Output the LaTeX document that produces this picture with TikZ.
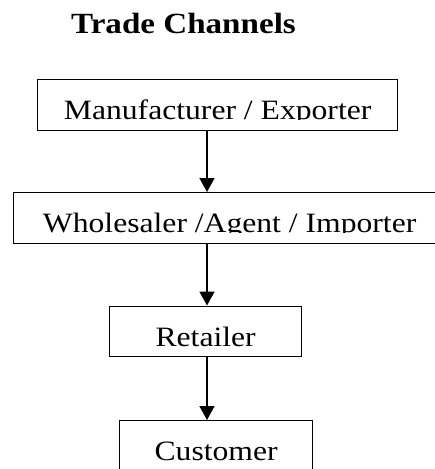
\documentclass[tikz,border=0pt]{standalone}
\usepackage{fontspec}
\setmainfont{Liberation Serif}[FakeStretch=1.13]
\usetikzlibrary{arrows.meta}
\tikzset{
  chanbox/.style={draw, line width=1.3pt, anchor=north west, minimum height=50.5pt,
    text height=29.5pt, text depth=0pt, inner ysep=0pt, inner xsep=0pt,
    font=\fontsize{28}{34}\selectfont},
  flowarrow/.style={line width=1.6pt, -{Triangle[length=14pt,width=15pt]}},
  cover/.style={fill=white}
}
\begin{document}
\begin{tikzpicture}[x=1pt,y=-1pt]
\useasboundingbox (0,0) rectangle (435,469);
\clip (0,0) rectangle (435,469);
\node[anchor=base, font=\fontsize{29.3}{34}\selectfont\bfseries, inner sep=0pt] (title) at (183.5,33) {Trade Channels};
\node[chanbox, minimum width=360pt] (m) at (37,79) {Manufacturer / Exporter};
\node[chanbox, minimum width=432pt] (w) at (13,192) {Wholesaler /Agent / Importer};
\node[chanbox, minimum width=192pt] (r) at (109,305.5) {Retailer};
\node[chanbox, minimum width=193pt] (c) at (119,420) {Customer};
\foreach \b in {m,w,r,c}
  \fill[cover] ([xshift=1.2pt,yshift=-0.4pt]\b.base -| \b.west) rectangle ([xshift=-1.2pt,yshift=1.2pt]\b.south east);
\coordinate (ax) at (207,0);
\draw[flowarrow] (m.south -| ax) -- (w.north -| ax);
\draw[flowarrow] (w.south -| ax) -- (r.north -| ax);
\draw[flowarrow] (r.south -| ax) -- (c.north -| ax);
\end{tikzpicture}
\end{document}
